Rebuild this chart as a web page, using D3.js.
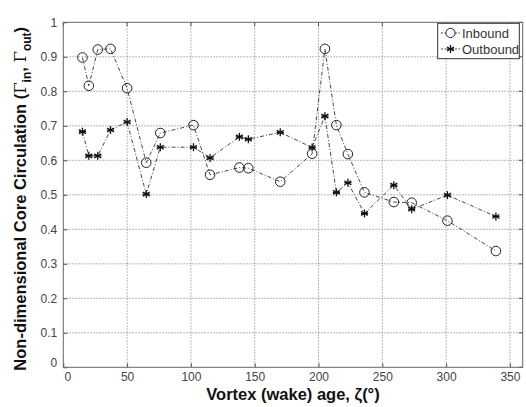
<!DOCTYPE html>
<html>
<head>
<meta charset="utf-8">
<script src="https://cdn.jsdelivr.net/npm/d3@7"></script>
<style>
  body { margin: 0; background: #fff; }
  svg { display: block; font-family: "Liberation Sans", Arial, sans-serif; }
</style>
</head>
<body>
<svg id="chart" width="526" height="407"></svg>
<script>
// Vortex wake age (degrees) for each measurement station
const wakeAge = [15, 20, 27, 37, 50, 65, 76, 102, 115, 138, 145, 170, 195, 205, 214, 223, 236, 259, 273, 301, 339];
// Non-dimensional core circulation, inbound vortex
const inbound = [0.898, 0.816, 0.921, 0.923, 0.809, 0.593, 0.679, 0.702, 0.558, 0.579, 0.577, 0.538, 0.619, 0.923, 0.702, 0.618, 0.507, 0.479, 0.477, 0.425, 0.337];
// Non-dimensional core circulation, outbound vortex
const outbound = [0.683, 0.613, 0.613, 0.688, 0.711, 0.502, 0.638, 0.638, 0.607, 0.668, 0.661, 0.681, 0.637, 0.728, 0.507, 0.535, 0.446, 0.528, 0.458, 0.499, 0.437];
const xTicks = [0, 50, 100, 150, 200, 250, 300, 350];
const yTicks = [0, 0.1, 0.2, 0.3, 0.4, 0.5, 0.6, 0.7, 0.8, 0.9, 1];
const seriesNames = ["Inbound", "Outbound"];

const svg = d3.select("#chart");
const plotL = 63.3, plotR = 522.7, plotT = 22.3, plotB = 367.3;

const x = d3.scaleLinear().domain([0, 360]).range([plotL, plotR]);
const y = d3.scaleLinear().domain([0, 1]).range([plotB, plotT]);

const grid = svg.append("g");
// vertical grid lines
grid.selectAll("line.gx").data(xTicks.filter(d => d > 0)).join("line")
  .attr("class", "gx")
  .attr("x1", d => x(d)).attr("x2", d => x(d))
  .attr("y1", plotT).attr("y2", plotB)
  .attr("stroke", "#888").attr("stroke-width", 0.8).attr("stroke-dasharray", "1.5,1.5");
// horizontal grid lines
grid.selectAll("line.gy").data(yTicks.filter(d => d > 0 && d < 1)).join("line")
  .attr("class", "gy")
  .attr("x1", plotL).attr("x2", plotR)
  .attr("y1", d => y(d)).attr("y2", d => y(d))
  .attr("stroke", "#888").attr("stroke-width", 0.8).attr("stroke-dasharray", "1.5,1.5");

// axes with inward ticks
const xAxis = d3.axisBottom(x).tickValues(xTicks).tickSize(-4).tickPadding(5).tickFormat(d3.format("d"));
const yAxis = d3.axisLeft(y).tickValues(yTicks).tickSize(-4).tickPadding(6).tickFormat(d => d === 0 ? "0" : d3.format(".1f")(d).replace(/\.0$/, ""));

const gx = svg.append("g").attr("transform", `translate(0,${plotB})`).call(xAxis);
const gy = svg.append("g").attr("transform", `translate(${plotL},0)`).call(yAxis);
[gx, gy].forEach(g => {
  g.select(".domain").remove();
  g.selectAll(".tick line").attr("stroke", "#555");
  g.selectAll(".tick text").attr("fill", "#444").style("font-size", "12px")
    .style("font-family", "'Liberation Sans', Arial, sans-serif");
});
// corner zeros sit apart from each other
gx.selectAll(".tick").filter(d => d === 0).select("text").attr("dx", 4);
gy.selectAll(".tick").filter(d => d === 0).select("text").attr("dy", "-0.1em");

// top/right ticks
svg.append("g").selectAll("line").data(xTicks).join("line")
  .attr("x1", d => x(d)).attr("x2", d => x(d)).attr("y1", plotT).attr("y2", plotT + 4).attr("stroke", "#555");
svg.append("g").selectAll("line").data(yTicks).join("line")
  .attr("x1", plotR).attr("x2", plotR - 4).attr("y1", d => y(d)).attr("y2", d => y(d)).attr("stroke", "#555");

// plot frame
svg.append("rect").attr("x", plotL).attr("y", plotT)
  .attr("width", plotR - plotL).attr("height", plotB - plotT)
  .attr("fill", "none").attr("stroke", "#666").attr("stroke-width", 1);

const line = d3.line().x(d => x(d[0])).y(d => y(d[1]));
const inPts = wakeAge.map((a, i) => [a, inbound[i]]);
const outPts = wakeAge.map((a, i) => [a, outbound[i]]);

const dashDot = "4,2,1,2";

svg.append("path").datum(inPts).attr("d", line)
  .attr("fill", "none").attr("stroke", "#333").attr("stroke-width", 0.9).attr("stroke-dasharray", dashDot);
svg.append("path").datum(outPts).attr("d", line)
  .attr("fill", "none").attr("stroke", "#333").attr("stroke-width", 0.9).attr("stroke-dasharray", dashDot);

// asterisk marker drawn from short strokes
function star(g, cx, cy, r) {
  const s = g.append("g").attr("transform", `translate(${cx},${cy})`);
  [0, 60, 120].forEach(a => {
    const t = a * Math.PI / 180;
    s.append("line").attr("x1", -r * Math.sin(t)).attr("y1", -r * Math.cos(t))
      .attr("x2", r * Math.sin(t)).attr("y2", r * Math.cos(t))
      .attr("stroke", "#111").attr("stroke-width", 1.3);
  });
  s.append("line").attr("x1", -r * 0.9).attr("x2", r * 0.9).attr("y1", 0).attr("y2", 0)
    .attr("stroke", "#111").attr("stroke-width", 1.3);
}

svg.append("g").selectAll("circle").data(inPts).join("circle")
  .attr("cx", d => x(d[0])).attr("cy", d => y(d[1])).attr("r", 4.8)
  .attr("fill", "none").attr("stroke", "#222").attr("stroke-width", 1);

const stars = svg.append("g");
outPts.forEach(d => star(stars, x(d[0]), y(d[1]), 4));

// legend
const lg = svg.append("g");
lg.append("rect").attr("x", 437.7).attr("y", 23.3).attr("width", 81.6).attr("height", 35.4)
  .attr("fill", "#fff").attr("stroke", "#333").attr("stroke-width", 1);
seriesNames.forEach((name, i) => {
  const ly = 33 + i * 16;
  lg.append("line").attr("x1", 441).attr("x2", 460).attr("y1", ly).attr("y2", ly)
    .attr("stroke", "#333").attr("stroke-width", 0.9).attr("stroke-dasharray", "2,1.5");
  if (i === 0) {
    lg.append("circle").attr("cx", 450.5).attr("cy", ly).attr("r", 4.6)
      .attr("fill", "#fff").attr("stroke", "#222");
  } else {
    star(lg, 450.5, ly, 4);
  }
  lg.append("text").attr("x", 462).attr("y", ly + 4.5).text(name)
    .attr("fill", "#333").style("font-size", "13px");
});

// axis titles
svg.append("text").attr("x", (plotL + plotR) / 2).attr("y", 400)
  .attr("text-anchor", "middle").style("font-size", "16.5px").style("font-weight", "bold")
  .attr("fill", "#111").text("Vortex (wake) age, ζ(°)");

const yl = svg.append("text").attr("transform", `translate(26,${(plotT + plotB) / 2 + 4}) rotate(-90)`)
  .attr("text-anchor", "middle").style("font-size", "16.5px").style("font-weight", "bold").attr("fill", "#111");
yl.append("tspan").text("Non-dimensional Core Circulation (");
yl.append("tspan").style("font-weight", "normal").style("font-family", "'DejaVu Serif', serif").text("Γ");
yl.append("tspan").attr("dy", 5).style("font-size", "12px").text("in");
yl.append("tspan").attr("dy", -5).text(", ");
yl.append("tspan").style("font-weight", "normal").style("font-family", "'DejaVu Serif', serif").text("Γ");
yl.append("tspan").attr("dy", 5).style("font-size", "12px").text("out");
yl.append("tspan").attr("dy", -5).text(")");
</script>
</body>
</html>
